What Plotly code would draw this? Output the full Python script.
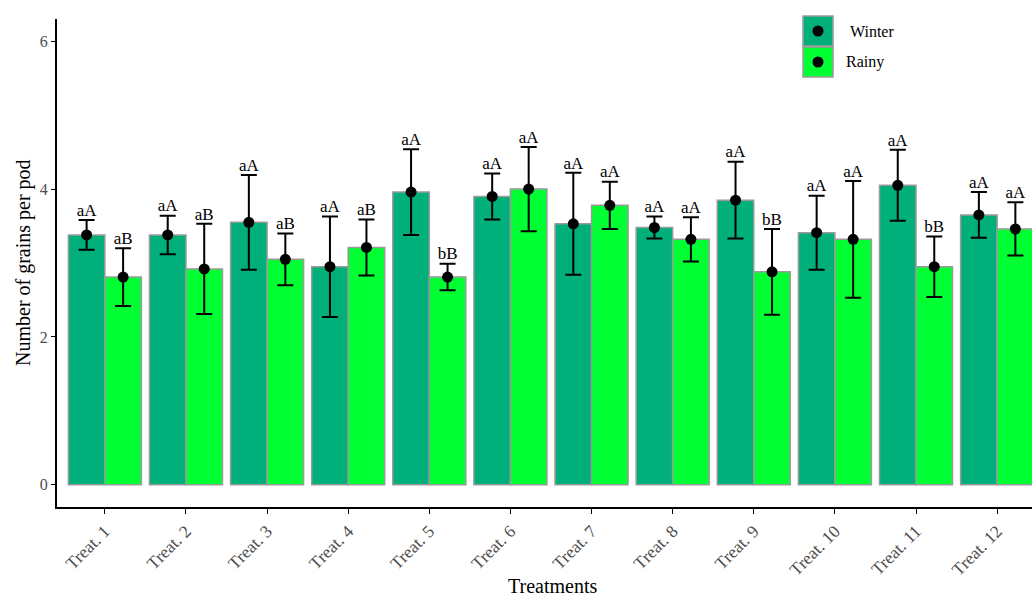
import plotly.graph_objects as go

# Treatment means, standard errors and significance letters per season
treatments = [f"Treat. {i}" for i in range(1, 13)]
winter_mean = [3.38, 3.38, 3.55, 2.95, 3.96, 3.90, 3.53, 3.48, 3.85, 3.41, 4.05, 3.65]
winter_se = [0.20, 0.26, 0.64, 0.68, 0.58, 0.31, 0.69, 0.15, 0.52, 0.50, 0.48, 0.31]
rainy_mean = [2.81, 2.92, 3.05, 3.21, 2.81, 4.00, 3.78, 3.32, 2.88, 3.32, 2.95, 3.46]
rainy_se = [0.39, 0.61, 0.35, 0.38, 0.18, 0.57, 0.32, 0.30, 0.58, 0.79, 0.41, 0.36]
winter_letters = ["aA"] * 12
rainy_letters = ["aB", "aB", "aB", "aB", "bB", "aA", "aA", "aA", "bB", "aA", "bB", "aA"]

WINTER_COLOR = "#00AF7A"
RAINY_COLOR = "#00FF33"
OUTLINE = "#9A9A9A"
FONT = "Liberation Serif"

W, H = 1032, 597
ML, MR, MT, MB = 57, 0, 19, 90
PW, PH = W - ML - MR, H - MT - MB

BAR_W = 0.45
idx = list(range(len(treatments)))
x_w = [i - BAR_W / 2 for i in idx]
x_r = [i + BAR_W / 2 for i in idx]

fig = go.Figure()

for xs, means, ses, letters, color, name in [
    (x_w, winter_mean, winter_se, winter_letters, WINTER_COLOR, "Winter"),
    (x_r, rainy_mean, rainy_se, rainy_letters, RAINY_COLOR, "Rainy"),
]:
    fig.add_trace(go.Bar(
        x=xs, y=means, width=BAR_W, name=name,
        marker=dict(color=color, line=dict(color=OUTLINE, width=1.5)),
        showlegend=False,
    ))
    fig.add_trace(go.Scatter(
        x=xs, y=means, mode="markers",
        marker=dict(color="black", size=11),
        error_y=dict(type="data", array=ses, color="black", thickness=2, width=8),
        showlegend=False, hoverinfo="skip",
    ))
    fig.add_trace(go.Scatter(
        x=xs, y=[m + s for m, s in zip(means, ses)], mode="text",
        text=letters, textposition="top center",
        textfont=dict(family=FONT, size=17, color="black"),
        showlegend=False, hoverinfo="skip",
    ))


def px_x(p):
    return (p - ML) / PW


def px_y(p):
    return (H - MB - p) / PH


# Legend keys: filled square with a black point, plus label
shapes = []
annotations = []
for (top, color, label, tx) in [(16, WINTER_COLOR, "Winter", 848), (47, RAINY_COLOR, "Rainy", 844)]:
    shapes.append(dict(type="rect", xref="paper", yref="paper",
                       x0=px_x(803), x1=px_x(833), y0=px_y(top + 30), y1=px_y(top),
                       fillcolor=color, line=dict(color=OUTLINE, width=1.5), layer="above"))
    cy = top + 15
    shapes.append(dict(type="circle", xref="paper", yref="paper",
                       x0=px_x(818 - 5.5), x1=px_x(818 + 5.5),
                       y0=px_y(cy + 5.5), y1=px_y(cy - 5.5),
                       fillcolor="black", line=dict(color="black", width=0), layer="above"))
    annotations.append(dict(xref="paper", yref="paper", x=px_x(tx), y=px_y(cy),
                            xanchor="left", yanchor="middle", showarrow=False,
                            text=label, font=dict(family=FONT, size=16, color="black")))

# Axis titles
annotations.append(dict(xref="paper", yref="paper", x=px_x(23), y=0.5, textangle=-90,
                        xanchor="center", yanchor="middle", showarrow=False,
                        text="Number of grains per pod",
                        font=dict(family=FONT, size=20, color="black")))
annotations.append(dict(xref="paper", yref="paper", x=px_x(552), y=px_y(586),
                        xanchor="center", yanchor="middle", showarrow=False,
                        text="Treatments",
                        font=dict(family=FONT, size=20, color="black")))

fig.update_layout(
    width=W, height=H,
    margin=dict(l=ML, r=MR, t=MT, b=MB),
    plot_bgcolor="white", paper_bgcolor="white",
    barmode="overlay",
    shapes=shapes, annotations=annotations,
    font=dict(family=FONT),
    xaxis=dict(
        range=[-0.59, 11.43], tickvals=idx, ticktext=treatments, tickangle=-45,
        showgrid=False, zeroline=False, showline=True, linecolor="black", linewidth=2,
        ticks="outside", ticklen=5, tickcolor="black", tickwidth=1,
        tickfont=dict(family=FONT, size=17.5, color="#4D4D4D"),
    ),
    yaxis=dict(
        range=[-0.3, 6.3], tickvals=[0, 2, 4, 6],
        showgrid=False, zeroline=False, showline=True, linecolor="black", linewidth=2,
        ticks="outside", ticklen=4, tickcolor="black", tickwidth=1,
        tickfont=dict(family=FONT, size=16, color="#4D4D4D"),
    ),
)

fig.write_html("out.html")
